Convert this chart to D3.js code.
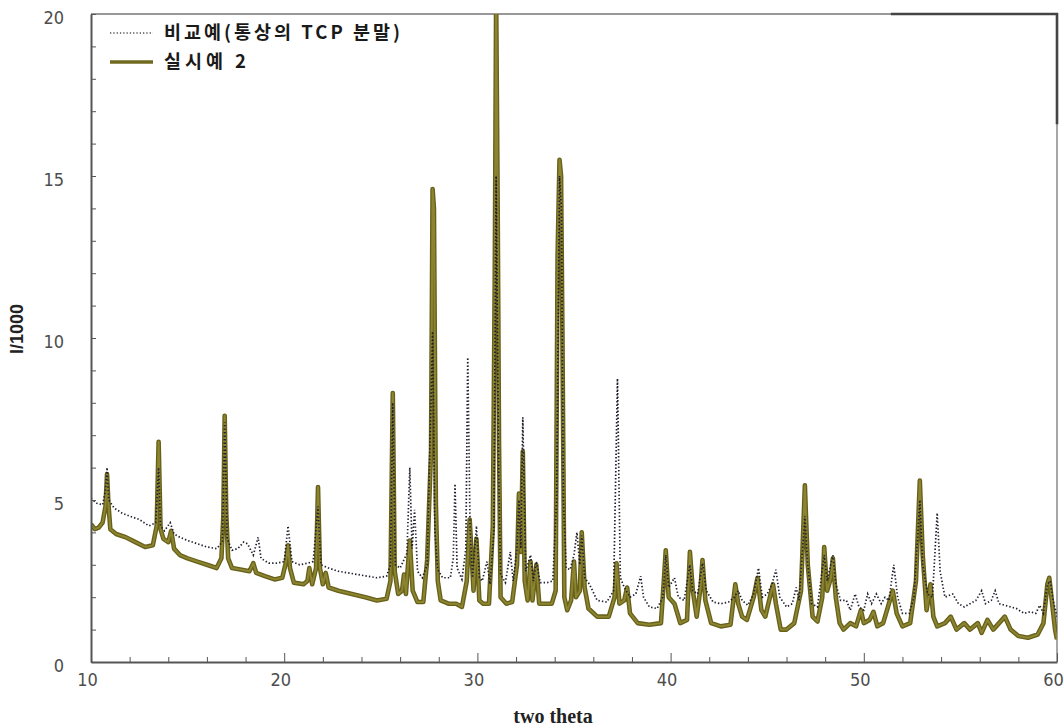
<!DOCTYPE html>
<html>
<head>
  <meta charset="utf-8" />
  <title>XRD pattern</title>
  <script src="https://d3js.org/d3.v7.min.js"></script>
</head>
<style>
body {
  margin: 0;
  background: #fff;
}
.tick text {
  font-family: "Liberation Sans Narrow", "DejaVu Sans Condensed", "Liberation Sans", Arial, sans-serif;
  font-stretch: condensed;
  font-size: 18px;
  fill: #4d4d4d;
}
.axis path, .axis line {
  stroke: #555;
}
</style>
<body>
<div id="chart"></div>
<script>
'use strict';

// two theta (deg) vs I/1000
const comparative = [  // 비교예(통상의 TCP 분말), dotted
  [10.0, 5.05], [10.3, 4.9], [10.6, 4.85], [10.75, 5.3], [10.83, 6.0], [10.92, 5.0],
  [11.2, 4.75], [11.6, 4.6], [12.0, 4.5], [12.5, 4.4], [13.0, 4.2], [13.35, 4.3],
  [13.5, 6.0], [13.6, 4.2], [13.8, 4.05], [14.1, 4.3], [14.3, 3.95], [14.6, 3.85],
  [15.0, 3.75], [15.5, 3.65], [16.0, 3.55], [16.5, 3.5], [16.8, 3.7], [16.92, 7.4],
  [17.05, 3.8], [17.3, 3.45], [17.6, 3.5], [17.9, 3.7], [18.1, 3.65], [18.4, 3.3],
  [18.65, 3.85], [18.8, 3.2], [19.2, 3.05], [19.6, 3.05], [20.0, 3.1], [20.2, 4.2],
  [20.4, 3.1], [20.8, 3.0], [21.2, 3.05], [21.5, 3.1], [21.75, 4.8], [21.9, 3.0],
  [22.3, 2.9], [22.8, 2.8], [23.3, 2.75], [23.8, 2.7], [24.3, 2.65], [24.8, 2.6],
  [25.3, 2.65], [25.5, 3.0], [25.62, 8.0], [25.75, 3.0], [26.0, 2.9], [26.35, 3.35],
  [26.5, 6.0], [26.62, 3.5], [26.75, 4.7], [26.9, 2.8], [27.15, 2.6], [27.4, 3.0],
  [27.68, 10.2], [27.8, 4.0], [27.95, 2.85], [28.2, 2.6], [28.6, 2.6], [28.75, 3.2],
  [28.84, 5.5], [28.95, 2.9], [29.2, 2.55], [29.4, 3.5], [29.5, 9.4], [29.62, 4.1],
  [29.75, 2.6], [29.95, 4.2], [30.1, 2.6], [30.25, 2.5], [30.5, 3.1], [30.65, 2.4],
  [30.85, 4.0], [30.97, 15.0], [31.1, 6.0], [31.2, 2.7], [31.45, 2.45], [31.7, 3.4],
  [31.85, 2.5], [32.05, 3.5], [32.15, 5.0], [32.25, 3.5], [32.35, 7.55], [32.5, 2.8],
  [32.75, 3.3], [32.9, 2.5], [33.05, 3.1], [33.25, 2.45], [33.6, 2.45], [33.9, 2.5],
  [34.1, 5.0], [34.25, 15.0], [34.35, 14.0], [34.45, 5.0], [34.6, 2.9], [34.8, 2.85],
  [35.0, 3.3], [35.15, 4.0], [35.3, 3.0], [35.4, 3.9], [35.55, 2.6], [35.8, 2.4],
  [36.2, 1.9], [36.7, 1.85], [37.05, 2.2], [37.25, 8.75], [37.4, 2.6], [37.6, 2.3],
  [37.9, 2.0], [38.2, 2.1], [38.45, 2.65], [38.6, 2.0], [38.9, 1.7], [39.3, 1.65],
  [39.6, 2.0], [39.75, 3.3], [39.9, 2.3], [40.2, 2.6], [40.4, 2.0], [40.7, 1.9],
  [41.0, 3.0], [41.15, 2.2], [41.4, 2.1], [41.65, 3.05], [41.85, 2.2], [42.2, 1.85],
  [42.6, 1.8], [43.0, 1.85], [43.3, 2.0], [43.5, 2.2], [43.7, 1.9], [44.0, 1.75],
  [44.3, 2.1], [44.55, 2.9], [44.75, 2.0], [45.0, 2.1], [45.25, 2.4], [45.45, 2.85],
  [45.65, 2.0], [46.0, 1.7], [46.3, 1.8], [46.5, 2.3], [46.65, 1.9], [46.95, 4.5],
  [47.1, 3.0], [47.3, 1.8], [47.6, 1.7], [47.95, 3.3], [48.1, 2.5], [48.4, 3.3],
  [48.55, 2.4], [48.8, 1.9], [49.1, 1.9], [49.3, 1.6], [49.55, 2.1], [49.75, 1.7],
  [50.0, 1.6], [50.2, 2.1], [50.4, 1.8], [50.65, 2.1], [50.9, 1.8], [51.1, 2.0],
  [51.3, 1.9], [51.55, 3.0], [51.75, 2.0], [52.0, 1.5], [52.35, 1.5], [52.6, 2.0],
  [52.9, 5.0], [53.05, 3.0], [53.3, 2.1], [53.55, 2.0], [53.8, 4.6], [53.95, 2.8],
  [54.2, 2.0], [54.6, 2.1], [54.9, 1.8], [55.2, 1.7], [55.5, 1.8], [55.8, 1.9],
  [56.1, 2.2], [56.3, 1.8], [56.6, 1.9], [56.8, 2.2], [57.0, 1.8], [57.3, 1.75],
  [57.6, 1.7], [57.9, 1.65], [58.3, 1.5], [58.6, 1.55], [58.9, 1.5], [59.1, 1.75],
  [59.3, 1.5], [59.5, 2.4], [59.65, 2.5], [59.8, 1.9], [60.0, 1.4]
];

const example2 = [  // 실시예 2, solid olive
  [10.0, 4.25], [10.2, 4.1], [10.4, 4.15], [10.6, 4.3], [10.75, 4.8], [10.83, 5.8],
  [10.9, 4.9], [11.0, 4.1], [11.3, 3.95], [11.8, 3.85], [12.3, 3.7], [12.8, 3.55],
  [13.2, 3.6], [13.4, 4.2], [13.5, 6.8], [13.6, 4.1], [13.75, 3.8], [14.0, 3.7],
  [14.15, 4.05], [14.3, 3.5], [14.6, 3.3], [15.0, 3.2], [15.5, 3.1], [16.0, 3.0],
  [16.5, 2.9], [16.75, 3.2], [16.85, 4.5], [16.92, 7.6], [17.0, 4.6], [17.1, 3.2],
  [17.3, 2.9], [17.8, 2.85], [18.2, 2.8], [18.4, 3.05], [18.55, 2.75], [19.0, 2.65],
  [19.5, 2.55], [19.9, 2.6], [20.1, 3.1], [20.2, 3.6], [20.3, 2.9], [20.5, 2.45],
  [21.0, 2.4], [21.2, 2.5], [21.3, 2.9], [21.45, 2.4], [21.65, 2.9], [21.75, 5.4],
  [21.85, 2.9], [22.0, 2.4], [22.15, 2.75], [22.3, 2.3], [22.8, 2.2], [23.5, 2.1],
  [24.2, 2.0], [24.8, 1.9], [25.3, 1.95], [25.5, 2.5], [25.62, 8.3], [25.72, 2.8],
  [25.9, 2.1], [26.1, 2.2], [26.2, 2.7], [26.3, 2.1], [26.5, 3.75], [26.65, 2.2],
  [26.9, 1.85], [27.2, 1.85], [27.4, 3.15], [27.6, 6.5], [27.68, 14.6], [27.75, 14.0],
  [27.85, 4.9], [27.95, 2.5], [28.1, 1.9], [28.5, 1.8], [28.9, 1.8], [29.2, 1.7],
  [29.45, 2.5], [29.6, 4.4], [29.8, 2.2], [29.95, 3.8], [30.1, 1.9], [30.3, 1.8],
  [30.6, 1.8], [30.8, 4.2], [30.9, 12.0], [30.97, 20.5], [31.05, 14.0], [31.12, 6.7],
  [31.2, 2.0], [31.5, 1.8], [31.8, 1.85], [32.05, 3.0], [32.15, 5.2], [32.25, 3.4],
  [32.35, 6.5], [32.45, 2.5], [32.6, 1.9], [32.75, 3.1], [32.85, 1.9], [33.05, 3.0],
  [33.2, 1.8], [33.5, 1.8], [33.85, 1.8], [34.05, 2.2], [34.15, 12.5], [34.25, 15.5],
  [34.33, 15.0], [34.4, 10.2], [34.5, 2.0], [34.65, 1.6], [34.85, 1.9], [35.0, 3.1],
  [35.1, 2.0], [35.3, 2.2], [35.4, 4.0], [35.55, 2.3], [35.75, 1.65], [36.2, 1.4],
  [36.8, 1.4], [37.1, 2.0], [37.2, 3.05], [37.35, 1.8], [37.6, 1.9], [37.75, 2.3],
  [37.9, 1.5], [38.3, 1.2], [38.9, 1.15], [39.5, 1.2], [39.65, 2.5], [39.75, 3.45],
  [39.9, 2.0], [40.2, 1.8], [40.5, 1.2], [40.85, 1.3], [41.0, 3.4], [41.15, 2.2],
  [41.35, 1.4], [41.55, 2.3], [41.65, 3.15], [41.8, 1.9], [42.1, 1.2], [42.6, 1.1],
  [43.1, 1.15], [43.35, 2.4], [43.5, 1.8], [43.7, 1.4], [43.95, 1.3], [44.3, 2.0],
  [44.5, 2.6], [44.7, 1.6], [44.9, 1.4], [45.3, 2.4], [45.45, 1.8], [45.7, 1.0],
  [46.0, 1.0], [46.4, 1.2], [46.75, 2.2], [46.95, 5.45], [47.1, 3.0], [47.35, 1.4],
  [47.6, 1.25], [47.85, 2.0], [47.95, 3.55], [48.1, 2.2], [48.3, 2.6], [48.4, 3.2],
  [48.55, 2.0], [48.75, 1.2], [48.95, 1.0], [49.3, 1.2], [49.6, 1.1], [49.85, 1.6],
  [50.0, 1.2], [50.3, 1.3], [50.5, 1.55], [50.7, 1.1], [51.0, 1.2], [51.3, 1.8],
  [51.5, 2.2], [51.7, 1.5], [52.0, 1.1], [52.4, 1.2], [52.7, 2.5], [52.9, 5.6],
  [53.05, 3.3], [53.25, 1.6], [53.45, 2.4], [53.6, 1.4], [53.8, 1.1], [54.2, 1.2],
  [54.5, 1.4], [54.8, 1.0], [55.2, 1.2], [55.5, 1.0], [55.9, 1.2], [56.1, 0.9],
  [56.4, 1.3], [56.7, 1.0], [57.0, 1.2], [57.3, 1.4], [57.6, 1.0], [58.0, 0.8],
  [58.5, 0.75], [59.0, 0.85], [59.3, 1.2], [59.5, 2.4], [59.6, 2.6], [59.75, 1.8],
  [59.9, 1.0], [60.0, 0.7]
];

const xMajor = [10, 20, 30, 40, 50, 60];
const yMajor = [0, 5, 10, 15, 20];
const legendLabels = ['비교예(통상의 TCP 분말)', '실시예 2'];

const W = 1064, H = 728;
const box = {left: 91, right: 1057, top: 14, bottom: 662};

const svg = d3.select('#chart').append('svg')
  .attr('width', W)
  .attr('height', H);

const x = d3.scaleLinear().domain([10, 60]).range([box.left, box.right]);
const y = d3.scaleLinear().domain([0, 20]).range([box.bottom, box.top]);

svg.append('clipPath').attr('id', 'plot')
  .append('rect')
    .attr('x', box.left).attr('y', box.top)
    .attr('width', box.right - box.left).attr('height', box.bottom - box.top);

// frame (top and right)
svg.append('path')
  .attr('d', `M${box.left},${box.top}H${box.right}V${box.bottom}`)
  .attr('fill', 'none')
  .attr('stroke', '#777')
  .attr('stroke-width', 1.3);
// the darker stretch in the upper right corner of the scan
svg.append('path')
  .attr('d', `M${x(51.4)},${box.top}H${box.right}V${y(16.6)}`)
  .attr('fill', 'none')
  .attr('stroke', '#444')
  .attr('stroke-width', 2.6);

const line = d3.line().x(d => x(d[0])).y(d => y(d[1]));

const traces = svg.append('g').attr('clip-path', 'url(#plot)');

traces.append('path')
  .datum(example2)
  .attr('d', line)
  .attr('fill', 'none')
  .attr('stroke', '#666019')
  .attr('stroke-width', 4.6)
  .attr('stroke-linejoin', 'round');
traces.append('path')
  .datum(example2)
  .attr('d', line)
  .attr('fill', 'none')
  .attr('stroke', '#8c8431')
  .attr('stroke-width', 2)
  .attr('stroke-linejoin', 'round');

traces.append('path')
  .datum(comparative)
  .attr('d', line)
  .attr('fill', 'none')
  .attr('stroke', '#1f1f2e')
  .attr('stroke-width', 1.7)
  .attr('stroke-dasharray', '1.4,2.1');

// axes, ticks inside
const xAxis = d3.axisBottom(x)
  .tickValues(d3.range(10, 61, 2))
  .tickSizeInner(-5).tickSizeOuter(0)
  .tickPadding(11)
  .tickFormat(d => xMajor.includes(d) ? d : '');
const gx = svg.append('g')
  .attr('class', 'axis')
  .attr('transform', `translate(0,${box.bottom})`)
  .call(xAxis);
gx.select('.domain').attr('stroke-width', 2);
gx.selectAll('.tick line').filter(d => xMajor.includes(d)).attr('y2', -9);
gx.selectAll('.tick text').attr('dx', -4);

const yAxis = d3.axisLeft(y)
  .tickValues(d3.range(0, 21, 1))
  .tickSizeInner(-5).tickSizeOuter(0)
  .tickPadding(27)
  .tickFormat(d => yMajor.includes(d) ? d : '');
const gy = svg.append('g')
  .attr('class', 'axis')
  .attr('transform', `translate(${box.left},0)`)
  .call(yAxis);
gy.select('.domain').attr('stroke-width', 2);
gy.selectAll('.tick text').attr('dy', '0.5em');

// axis titles
svg.append('text')
  .attr('x', 553).attr('y', 723)
  .attr('text-anchor', 'middle')
  .style('font-family', '"Liberation Serif", "DejaVu Serif", serif')
  .style('font-weight', 'bold')
  .style('font-size', '20px')
  .style('fill', '#222')
  .text('two theta');

svg.append('text')
  .attr('transform', 'translate(23,329) rotate(-90)')
  .attr('text-anchor', 'middle')
  .style('font-family', '"Liberation Sans", Arial, sans-serif')
  .style('font-weight', 'bold')
  .style('font-size', '18px')
  .style('fill', '#222')
  .text('I/1000');

// legend
const legend = svg.append('g');
const legendRows = [
  {label: legendLabels[0], y: 33, dotted: true, len: 236},
  {label: legendLabels[1], y: 62, dotted: false, len: 82}
];
legendRows.forEach(r => {
  if (r.dotted) {
    legend.append('line')
      .attr('x1', 110).attr('x2', 153).attr('y1', r.y).attr('y2', r.y)
      .attr('stroke', '#555')
      .attr('stroke-width', 1.4)
      .attr('stroke-dasharray', '1.3,2');
  } else {
    legend.append('line')
      .attr('x1', 110).attr('x2', 153).attr('y1', r.y).attr('y2', r.y)
      .attr('stroke', '#6f6a1f')
      .attr('stroke-width', 3.4);
  }
  legend.append('text')
    .attr('x', 164).attr('y', r.y + 6)
    .attr('textLength', r.len)
    .attr('lengthAdjust', 'spacing')
    .style('font-family', '"Noto Sans CJK KR", sans-serif')
    .style('font-weight', 'bold')
    .style('font-size', '18.5px')
    .style('fill', '#1a1a1a')
    .text(r.label);
});
</script>
</body>
</html>
